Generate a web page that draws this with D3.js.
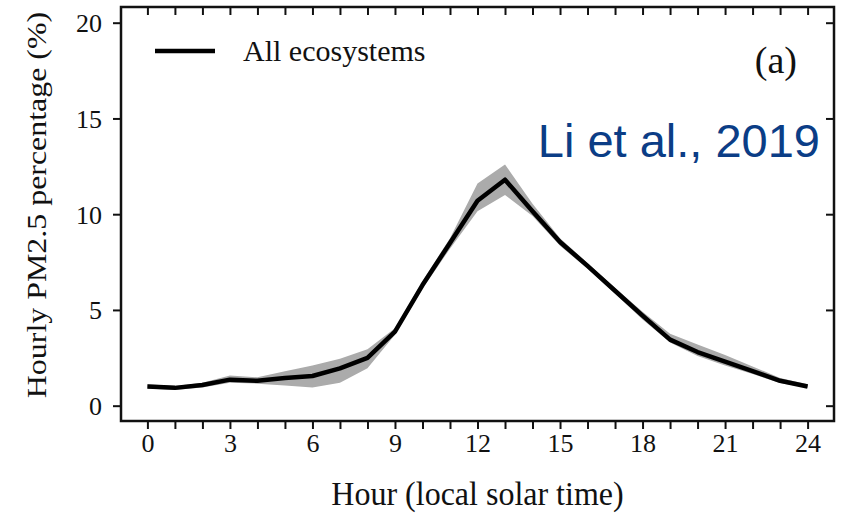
<!DOCTYPE html>
<html>
<head>
<meta charset="utf-8">
<script src="https://cdn.jsdelivr.net/npm/d3@7"></script>
<style>
  body { margin: 0; background: #fff; }
  text { font-family: "Liberation Serif", "Times New Roman", serif; fill: #111; }
</style>
</head>
<body>
<svg id="chart" width="866" height="516"></svg>
<script>
// hourly values
const hours = d3.range(0, 25);
const meanPct = [1.0, 0.93, 1.08, 1.36, 1.3, 1.45, 1.55, 1.95, 2.5, 3.87, 6.3, 8.5, 10.7, 11.8, 10.15, 8.55, 7.3, 6.0, 4.7, 3.45, 2.8, 2.3, 1.8, 1.3, 1.0];
const upperPct = [1.12, 1.03, 1.2, 1.58, 1.48, 1.8, 2.1, 2.45, 2.95, 4.05, 6.5, 8.75, 11.6, 12.6, 10.55, 8.75, 7.45, 6.15, 4.9, 3.75, 3.2, 2.65, 2.05, 1.45, 1.12];
const lowerPct = [0.9, 0.82, 0.95, 1.2, 1.15, 1.05, 0.95, 1.2, 1.95, 3.7, 6.1, 8.2, 10.15, 11.0, 9.9, 8.35, 7.15, 5.85, 4.5, 3.3, 2.6, 2.1, 1.65, 1.18, 0.93];
const xTicks = [0, 3, 6, 9, 12, 15, 18, 21, 24];
const yTicks = [0, 5, 10, 15, 20];

const data = hours.map((h, i) => ({ h, mean: meanPct[i], hi: upperPct[i], lo: lowerPct[i] }));

const svg = d3.select("#chart");
const margin = { top: 7, right: 32, bottom: 95, left: 121 };
const width = 866, height = 516;

const x = d3.scaleLinear().domain([-0.96, 24.96]).range([margin.left, width - margin.right]);
const y = d3.scaleLinear().domain([-0.8, 20.82]).range([height - margin.bottom, margin.top]);

// shaded range
svg.append("path")
  .datum(data)
  .attr("fill", "#ababab")
  .attr("d", d3.area().x(d => x(d.h)).y0(d => y(d.lo)).y1(d => y(d.hi)));

// mean line
svg.append("path")
  .datum(data)
  .attr("fill", "none")
  .attr("stroke", "#000")
  .attr("stroke-width", 4.5)
  .attr("stroke-linejoin", "round")
  .attr("d", d3.line().x(d => x(d.h)).y(d => y(d.mean)));

// axes
const allHours = d3.range(0, 25);
const gBottom = svg.append("g")
  .attr("transform", `translate(0,${height - margin.bottom})`)
  .call(d3.axisBottom(x).tickValues(allHours).tickSize(8)
    .tickFormat(d => xTicks.includes(d) ? d : ""));
const gTop = svg.append("g")
  .attr("transform", `translate(0,${margin.top})`)
  .call(d3.axisBottom(x).tickValues(allHours).tickSize(8).tickFormat(""));
const gLeft = svg.append("g")
  .attr("transform", `translate(${margin.left},0)`)
  .call(d3.axisLeft(y).tickValues(yTicks).tickSize(8));
const gRight = svg.append("g")
  .attr("transform", `translate(${width - margin.right},0)`)
  .call(d3.axisLeft(y).tickValues(yTicks).tickSize(8).tickFormat(""));

[gBottom, gTop, gLeft, gRight].forEach(g => {
  g.select(".domain").remove();
  g.selectAll(".tick line").attr("stroke", "#111").attr("stroke-width", 2);
  g.selectAll(".tick text").attr("font-size", 26).attr("fill", "#111");
});
gBottom.selectAll(".tick text").attr("y", 31).attr("dy", null);
gLeft.selectAll(".tick text").attr("x", -19).attr("dy", "0.34em");

// frame
svg.append("rect")
  .attr("x", margin.left).attr("y", margin.top)
  .attr("width", width - margin.left - margin.right)
  .attr("height", height - margin.top - margin.bottom)
  .attr("fill", "none").attr("stroke", "#111").attr("stroke-width", 2.5);

// axis titles (the source figure is stretched a bit vertically)
svg.append("text")
  .attr("transform", `translate(${(margin.left + width - margin.right) / 2},505) scale(1,1.08)`)
  .attr("text-anchor", "middle").attr("font-size", 32)
  .text("Hour (local solar time)");
svg.append("text")
  .attr("transform", "translate(46,205) rotate(-90) scale(1.14,1)")
  .attr("text-anchor", "middle").attr("font-size", 28)
  .text("Hourly PM2.5 percentage (%)");

// legend
svg.append("line")
  .attr("x1", 155).attr("x2", 215).attr("y1", 51).attr("y2", 51)
  .attr("stroke", "#000").attr("stroke-width", 4.5);
svg.append("text")
  .attr("x", 243).attr("y", 61).attr("font-size", 30)
  .text("All ecosystems");

// panel label and citation
svg.append("text")
  .attr("x", 797).attr("y", 73).attr("text-anchor", "end").attr("font-size", 38)
  .text("(a)");
svg.append("text")
  .attr("x", 820).attr("y", 157).attr("text-anchor", "end")
  .attr("font-size", 47)
  .style("font-family", "'Liberation Sans', Arial, sans-serif")
  .style("fill", "#0b3d86")
  .text("Li et al., 2019");
</script>
</body>
</html>
